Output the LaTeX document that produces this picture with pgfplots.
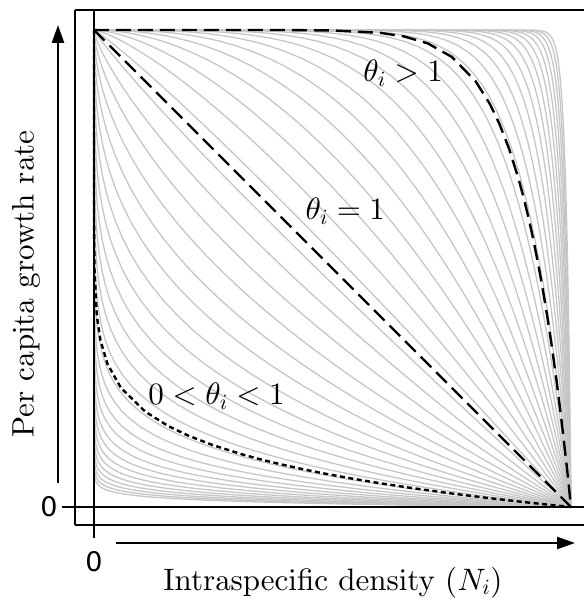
\documentclass[border=0pt]{standalone}
\usepackage{fontspec}
\newfontfamily\dejavu{DejaVu Sans}
\usepackage{pgfplots}
\usepackage{pgfplotstable}
\pgfplotsset{compat=1.18}
\usetikzlibrary{arrows.meta}
% scalable Computer Modern for the big labels
\DeclareFontShape{OML}{cmm}{m}{it}{<->cmmi10}{}
\DeclareFontShape{OT1}{cmr}{m}{n}{<->cmr10}{}
\DeclareFontShape{OMS}{cmsy}{m}{n}{<->cmsy10}{}

% W = exp(-10^(2p/49)), V = 1 - W, p = -59..21 (row = p + 59)
\pgfplotstableread{
W V
0.9961 0.0039
0.9957 0.0043
0.9953 0.0047
0.9948 0.0052
0.9943 0.0057
0.9938 0.0062
0.9932 0.0068
0.9925 0.0075
0.9917 0.0083
0.9909 0.0091
0.9900 0.0100
0.9891 0.0109
0.9880 0.0120
0.9868 0.0132
0.9855 0.0145
0.9841 0.0159
0.9826 0.0174
0.9809 0.0191
0.9790 0.0210
0.9770 0.0230
0.9747 0.0253
0.9723 0.0277
0.9696 0.0304
0.9666 0.0334
0.9634 0.0366
0.9599 0.0401
0.9560 0.0440
0.9518 0.0482
0.9472 0.0528
0.9421 0.0579
0.9366 0.0634
0.9306 0.0694
0.9240 0.0760
0.9168 0.0832
0.9090 0.0910
0.9005 0.0995
0.8912 0.1088
0.8812 0.1188
0.8703 0.1297
0.8584 0.1416
0.8456 0.1544
0.8318 0.1682
0.8168 0.1832
0.8007 0.1993
0.7833 0.2167
0.7647 0.2353
0.7448 0.2552
0.7234 0.2766
0.7007 0.2993
0.6766 0.3234
0.6510 0.3490
0.6241 0.3759
0.5957 0.4043
0.5661 0.4339
0.5352 0.4648
0.5033 0.4967
0.4703 0.5297
0.4366 0.5634
0.4024 0.5976
0.3679 0.6321
0.3334 0.6666
0.2992 0.7008
0.2656 0.7344
0.2331 0.7669
0.2019 0.7981
0.1725 0.8275
0.1450 0.8550
0.1199 0.8801
0.0973 0.9027
0.0773 0.9227
0.0601 0.9399
0.0456 0.9544
0.0336 0.9664
0.0240 0.9760
0.0167 0.9833
0.0111 0.9889
0.0071 0.9929
0.0044 0.9956
0.0026 0.9974
0.0014 0.9986
0.0007 0.9993
}\Wtab

\newcount\myr \newcount\myy \newcount\myend
\newcommand\bigfont{\fontencoding{OT1}\fontfamily{cmr}\fontsize{31}{36}\selectfont}

\begin{document}
\begin{tikzpicture}
\begin{axis}[
  at={(0,0)}, anchor=south west,
  scale only axis, width=509pt, height=515pt,
  xmin=-0.0398, xmax=1.0273, ymin=-0.0377, ymax=1.0419,
  axis x line=box, axis y line=left,
  axis line style={-, line width=1.5pt},
  xtick={0}, ytick={0}, xtick pos=left, ytick pos=left,
  tick align=outside, major tick length=13pt,
  tick style={black, line width=1.5pt},
  grid=major, major grid style={black, line width=1.5pt},
  axis on top,
  /pgf/number format/assume math mode=true,
  ticklabel style={font=\dejavu\fontsize{27}{32}\selectfont},
  xticklabel style={yshift=-10pt},
  yticklabel style={xshift=-1pt},
]
% gray family: shift J in the table pairs x row r with y row r+J
\pgfplotsforeachungrouped \J in {-49,-47,...,49}{%
  \ifnum\J<0 \myr=-\J\relax \myend=80\relax
  \else \myr=0\relax \myend=\numexpr80-\J\relax \fi
  \def\coords{(1,0)}%
  \loop
    \myy=\numexpr\myr+\J\relax
    \pgfplotstablegetelem{\the\myr}{W}\of\Wtab\let\xv\pgfplotsretval
    \pgfplotstablegetelem{\the\myy}{V}\of\Wtab\let\yv\pgfplotsretval
    \edef\coords{\coords(\xv,\yv)}%
    \advance\myr by 1\relax
  \ifnum\myr<\numexpr\myend+1\relax\repeat
  \edef\coords{\coords(0,1)}%
  \edef\doplot{\noexpand\addplot[draw=gray!45, line width=1.3pt] coordinates {\coords};}%
  \doplot
}
% theta = 1
\addplot[black, line width=2.4pt, dash pattern=on 15pt off 7pt] coordinates {(0,1) (1,0)};
% theta = 10
\addplot[black, line width=2.4pt, dash pattern=on 15pt off 7pt] coordinates {
(0,1) (0.3,1.0000) (0.4,0.9999) (0.5,0.9990) (0.6,0.9940) (0.65,0.9865)
(0.7,0.9718) (0.75,0.9437) (0.8,0.8926) (0.83,0.8448) (0.85,0.8031)
(0.87,0.7516) (0.89,0.6882) (0.9,0.6513) (0.91,0.6106) (0.92,0.5656)
(0.93,0.5160) (0.94,0.4614) (0.95,0.4013) (0.96,0.3352) (0.97,0.2626)
(0.98,0.1829) (0.99,0.0956) (0.995,0.0489) (1,0)};
% theta = 0.1
\addplot[black, line width=2.4pt, dash pattern=on 5pt off 3.5pt] coordinates {
(0,1) (1e-10,0.9) (1e-7,0.8) (0.0000059,0.7) (0.000105,0.6) (0.000977,0.5)
(0.006047,0.4) (0.013463,0.35) (0.028248,0.3) (0.056314,0.25) (0.107374,0.2)
(0.155160,0.17) (0.196874,0.15) (0.248424,0.13) (0.311817,0.11) (0.348678,0.1)
(0.389416,0.09) (0.434388,0.08) (0.483982,0.07) (0.538615,0.06) (0.598737,0.05)
(0.664833,0.04) (0.737424,0.03) (0.817073,0.02) (0.904382,0.01) (0.951110,0.005) (1,0)};
\node[anchor=base, font=\bigfont] at (axis cs:0.648,0.891) {$\theta_i > 1$};
\node[anchor=base, font=\bigfont] at (axis cs:0.527,0.602) {$\theta_i = 1$};
\node[anchor=base, font=\bigfont] at (axis cs:0.257,0.214) {$0 < \theta_i < 1$};
\end{axis}
\node[anchor=base, font=\bigfont] at (258pt,-65pt) {Intraspecific density $(N_i)$};
\node[rotate=90, anchor=base, font=\bigfont] at (-41.5pt,241pt) {Per capita growth rate};
\draw[line width=2.5pt, -{Triangle[length=18pt, width=12pt]}] (-17pt,42pt) -- (-17pt,500pt);
\draw[line width=2.5pt, -{Triangle[length=18pt, width=12pt]}] (41pt,-18pt) -- (500pt,-18pt);
\pgfresetboundingbox
\path[use as bounding box] (-75pt,-76pt) rectangle (509pt,525pt);
\end{tikzpicture}
\end{document}
